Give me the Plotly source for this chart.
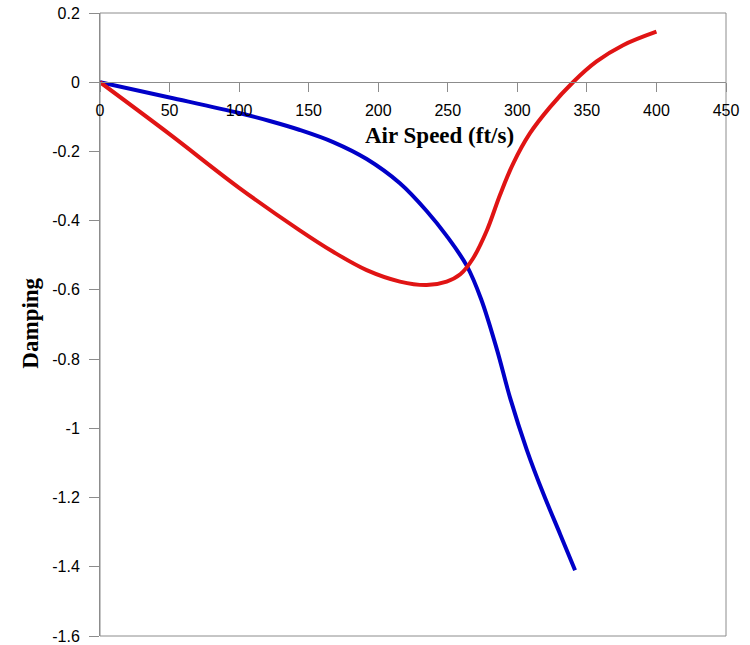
import plotly.graph_objects as go

# Data
blue_x = [0, 50, 100, 122, 143.7, 167.6, 191.7, 215.6, 234.8, 249.2, 263.6, 274, 285.3,
          294.8, 306.8, 318.8, 330.7, 341.5]
blue_y = [0, -0.044, -0.089, -0.112, -0.138, -0.173, -0.222, -0.292, -0.372, -0.444, -0.53,
          -0.627, -0.772, -0.912, -1.062, -1.19, -1.305, -1.41]

red_x = [0, 50, 100, 143.6, 167.6, 191.7, 215.6, 234.8, 249.2, 259, 268, 278, 287.6,
         297, 309, 323.5, 340, 357, 376, 400]
red_y = [0, -0.15, -0.305, -0.428, -0.49, -0.543, -0.576, -0.586, -0.576, -0.555,
         -0.51, -0.429, -0.325, -0.235, -0.148, -0.072, 0, 0.06, 0.107, 0.146]

x_ticks = [0, 50, 100, 150, 200, 250, 300, 350, 400, 450]
x_tick_labels = ["0", "50", "100", "150", "200", "250", "300", "350", "400", "450"]
y_ticks = [0.2, 0, -0.2, -0.4, -0.6, -0.8, -1.0, -1.2, -1.4, -1.6]
y_tick_labels = ["0.2", "0", "-0.2", "-0.4", "-0.6", "-0.8", "-1", "-1.2", "-1.4", "-1.6"]

x_range = [0, 450]
y_range = [-1.6, 0.2]

fig = go.Figure()
fig.add_trace(go.Scatter(x=blue_x, y=blue_y, mode="lines",
                         line=dict(color="#0000c8", width=4, shape="spline", smoothing=1.0),
                         showlegend=False))
fig.add_trace(go.Scatter(x=red_x, y=red_y, mode="lines",
                         line=dict(color="#e01414", width=4, shape="spline", smoothing=1.0),
                         showlegend=False))

axis_grey = "#8c8c8c"
tick_font = dict(family="Liberation Sans, Arial, sans-serif", size=16, color="#000000")

fig.update_layout(
    width=750, height=645,
    margin=dict(l=100, r=24, t=13, b=9),
    paper_bgcolor="white", plot_bgcolor="white",
    xaxis=dict(range=x_range, tickvals=x_ticks, ticktext=x_tick_labels,
               anchor="free", position=(0 - y_range[0]) / (y_range[1] - y_range[0]),
               showline=True, linecolor=axis_grey, linewidth=1,
               ticks="outside", ticklen=9, tickcolor=axis_grey, tickwidth=1,
               ticklabelstandoff=5, automargin=False,
               showgrid=False, zeroline=False, tickfont=tick_font),
    yaxis=dict(range=y_range, tickvals=y_ticks, ticktext=y_tick_labels,
               showline=True, linecolor=axis_grey, linewidth=1,
               ticks="outside", ticklen=10, tickcolor=axis_grey, tickwidth=1,
               ticklabelstandoff=6, automargin=False,
               showgrid=False, zeroline=False, tickfont=tick_font),
    shapes=[dict(type="rect", xref="paper", yref="paper", x0=0, x1=1, y0=0, y1=1,
                 line=dict(color=axis_grey, width=1), layer="below")],
    annotations=[
        dict(text="<b>Air Speed (ft/s)</b>", xref="paper", yref="paper",
             x=0.5417, y=0.804, showarrow=False, xanchor="center", yanchor="middle",
             font=dict(family="Liberation Serif, Times New Roman, serif", size=23, color="#000000")),
        dict(text="<b>Damping</b>", xref="paper", yref="paper",
             x=-0.1124, y=0.5024, showarrow=False, textangle=-90,
             xanchor="center", yanchor="middle",
             font=dict(family="Liberation Serif, Times New Roman, serif", size=23, color="#000000")),
    ],
)

fig.write_html("out.html")
